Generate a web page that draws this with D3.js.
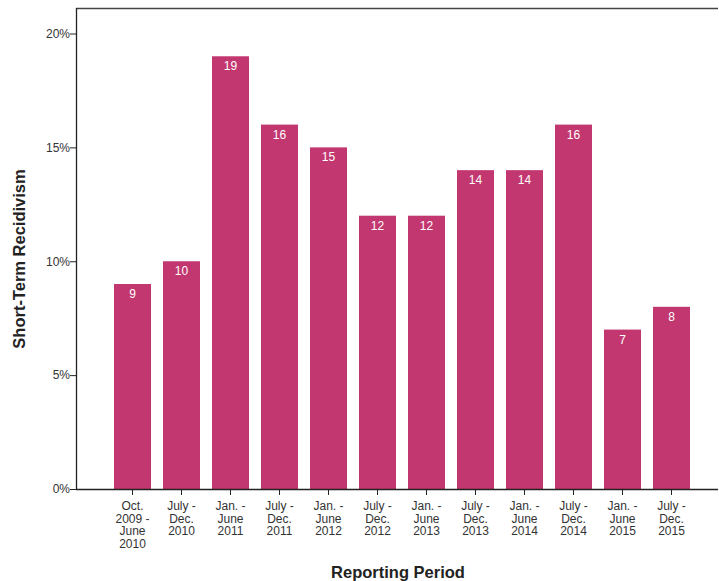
<!DOCTYPE html>
<html>
<head>
<meta charset="utf-8">
<script src="https://cdn.jsdelivr.net/npm/d3@7"></script>
<style>
  html, body { margin: 0; padding: 0; background: #fff; }
  svg { display: block; font-family: Arial, "Liberation Sans", sans-serif; }
</style>
</head>
<body>
<svg id="chart" width="719" height="581"></svg>
<script>
// Reporting periods (multi-line category labels)
const periods = [
  ["Oct.", "2009 -", "June", "2010"],
  ["July -", "Dec.", "2010"],
  ["Jan. -", "June", "2011"],
  ["July -", "Dec.", "2011"],
  ["Jan. -", "June", "2012"],
  ["July -", "Dec.", "2012"],
  ["Jan. -", "June", "2013"],
  ["July -", "Dec.", "2013"],
  ["Jan. -", "June", "2014"],
  ["July -", "Dec.", "2014"],
  ["Jan. -", "June", "2015"],
  ["July -", "Dec.", "2015"]
];
// Short-term recidivism, percent
const recidivism = [9, 10, 19, 16, 15, 12, 12, 14, 14, 16, 7, 8];
const yTicks = [0, 5, 10, 15, 20];

const svg = d3.select("#chart");
const frame = { left: 76, right: 718, top: 8, bottom: 489 };

const keys = periods.map((p, i) => i);
const x = d3.scaleBand().domain(keys).range([102, 702]).padding(0.245);
const y = d3.scaleLinear().domain([0, 20]).range([frame.bottom, 33.5]);

// Plot frame (top edge)
svg.append("line")
  .attr("x1", frame.left).attr("x2", frame.right)
  .attr("y1", frame.top + 0.5).attr("y2", frame.top + 0.5)
  .attr("stroke", "#444").attr("stroke-width", 1.5);

// Bars
svg.append("g").selectAll("rect")
  .data(recidivism)
  .join("rect")
  .attr("x", (d, i) => x(i))
  .attr("width", x.bandwidth())
  .attr("y", d => y(d))
  .attr("height", d => y(0) - y(d))
  .attr("fill", "#c2376f");

// Value labels inside bars
svg.append("g").selectAll("text")
  .data(recidivism)
  .join("text")
  .attr("x", (d, i) => x(i) + x.bandwidth() / 2)
  .attr("y", d => y(d) + 14)
  .attr("text-anchor", "middle")
  .attr("fill", "#fff")
  .attr("font-size", 12)
  .text(d => d);

// Y axis
const yAxis = svg.append("g")
  .attr("transform", `translate(${frame.left},0)`)
  .call(d3.axisLeft(y).tickValues(yTicks).tickFormat(d => d + "%").tickSize(6).tickSizeOuter(0));
yAxis.select(".domain").remove();
yAxis.selectAll(".tick line").attr("stroke", "#222");
yAxis.selectAll(".tick text").attr("font-size", 12).attr("fill", "#333")
  .attr("font-family", "Arial, 'Liberation Sans', sans-serif").attr("x", -6);
svg.append("line")
  .attr("x1", frame.left + 0.5).attr("x2", frame.left + 0.5)
  .attr("y1", frame.top).attr("y2", frame.bottom)
  .attr("stroke", "#222").attr("stroke-width", 1.3);

// X axis
const xAxis = svg.append("g")
  .attr("transform", `translate(0,${frame.bottom})`)
  .call(d3.axisBottom(x).tickSize(6).tickSizeOuter(0).tickFormat(""));
xAxis.select(".domain").remove();
xAxis.selectAll(".tick line").attr("stroke", "#222");
svg.append("line")
  .attr("x1", frame.left).attr("x2", frame.right)
  .attr("y1", frame.bottom + 0.5).attr("y2", frame.bottom + 0.5)
  .attr("stroke", "#222").attr("stroke-width", 1.3);

xAxis.selectAll(".tick").each(function(d) {
  const t = d3.select(this).append("text")
    .attr("text-anchor", "middle")
    .attr("fill", "#333")
    .attr("font-size", 12)
    .attr("font-family", "Arial, 'Liberation Sans', sans-serif");
  periods[d].forEach((line, j) => {
    t.append("tspan").attr("x", 0).attr("y", 21 + j * 12.5).text(line);
  });
});

// Axis titles
svg.append("text")
  .attr("x", 398).attr("y", 578)
  .attr("text-anchor", "middle")
  .attr("font-size", 16.5).attr("font-weight", "bold").attr("fill", "#222")
  .text("Reporting Period");

svg.append("text")
  .attr("transform", "translate(25,259) rotate(-90)")
  .attr("text-anchor", "middle")
  .attr("font-size", 16.5).attr("font-weight", "bold").attr("fill", "#222")
  .text("Short-Term Recidivism");
</script>
</body>
</html>
